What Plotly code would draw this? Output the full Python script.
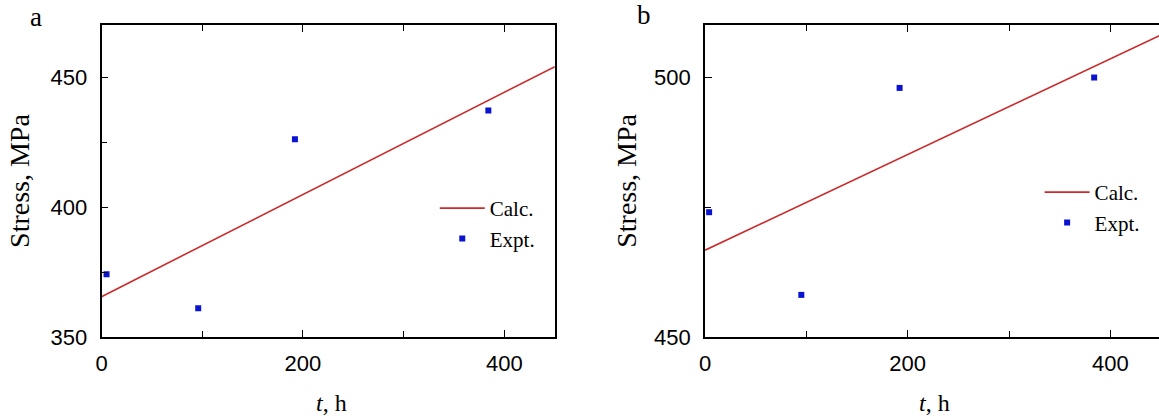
import plotly.graph_objects as go

# Panel a
t_expt_a = [5, 96, 192, 384]
s_expt_a = [374.1, 361.1, 426.1, 437.1]
t_calc_a = [0, 450]
s_calc_a = [365.5, 454.0]

# Panel b
t_expt_b = [4, 95, 192, 384]
s_expt_b = [474.0, 458.1, 497.9, 499.9]
t_calc_b = [0, 450]
s_calc_b = [466.7, 508.1]

x_ticks = [0, 200, 400]
y_ticks_a = [350, 400, 450]
y_ticks_b = [450, 500]

RED = "#cc2a2a"
BLUE = "#0a14d0"
SANS = "Liberation Sans"
SERIF = "Liberation Serif"

W, H = 1159, 419
DX = -4  # horizontal correction in px
fig = go.Figure()

fig.add_trace(go.Scatter(x=t_calc_a, y=s_calc_a, mode="lines", name="Calc.",
                         line=dict(color=RED, width=1.6), xaxis="x", yaxis="y", legend="legend"))
fig.add_trace(go.Scatter(x=t_expt_a, y=s_expt_a, mode="markers", name="Expt.",
                         marker=dict(symbol="square", size=6, color=BLUE), xaxis="x", yaxis="y",
                         legend="legend"))
fig.add_trace(go.Scatter(x=t_calc_b, y=s_calc_b, mode="lines", name="Calc.",
                         line=dict(color=RED, width=1.6), xaxis="x2", yaxis="y2", legend="legend2"))
fig.add_trace(go.Scatter(x=t_expt_b, y=s_expt_b, mode="markers", name="Expt.",
                         marker=dict(symbol="square", size=6, color=BLUE), xaxis="x2", yaxis="y2",
                         legend="legend2"))

def xax(domain, rng, anchor):
    return dict(domain=domain, range=rng, anchor=anchor, tickvals=x_ticks,
                showline=True, linecolor="black", linewidth=1.7, mirror="ticks",
                ticks="inside", ticklen=7, tickwidth=1.4, tickcolor="black",
                minor=dict(tickvals=[100, 300], ticks="inside", ticklen=6, tickwidth=1.4, tickcolor="black"),
                showgrid=False, zeroline=False,
                tickfont=dict(family=SANS, size=22, color="black"), ticklabelstandoff=6)

def yax(domain, rng, anchor, tv, minor_tv, mirror):
    return dict(domain=domain, range=rng, anchor=anchor, tickvals=tv,
                showline=True, linecolor="black", linewidth=1.7, mirror=mirror,
                ticks="inside", ticklen=7, tickwidth=1.4, tickcolor="black",
                minor=dict(tickvals=minor_tv, ticks="inside", ticklen=6, tickwidth=1.4, tickcolor="black"),
                showgrid=False, zeroline=False,
                tickfont=dict(family=SANS, size=22, color="black"), ticklabelstandoff=8)

def px(x):
    return (x + DX) / W

xa = [px(100), px(555.7)]
xb = [px(706.7), 1.0]

fig.update_layout(
    width=W, height=H,
    margin=dict(l=0, r=0, t=25, b=H - 337),
    paper_bgcolor="white", plot_bgcolor="white",
    xaxis=xax(xa, [0, 450], "y"),
    yaxis=yax([0, 1], [350, 470], "x", y_ticks_a, [375, 425], True),
    xaxis2=xax(xb, [0, 448], "y2"),
    yaxis2=yax([0, 1], [450, 510], "x2", y_ticks_b, [475], False),
    legend=dict(x=px(435), y=1 - (189 - 26) / 312, xref="paper", yref="paper",
                xanchor="left", yanchor="top", bgcolor="rgba(0,0,0,0)",
                font=dict(family=SERIF, size=21, color="black"), itemwidth=45, tracegroupgap=0),
    legend2=dict(x=px(1043), y=1 - (173 - 26) / 312, xref="paper", yref="paper",
                 xanchor="left", yanchor="top", bgcolor="rgba(0,0,0,0)",
                 font=dict(family=SERIF, size=21, color="black"), itemwidth=45, tracegroupgap=0),
    showlegend=True,
)

def ann(text, x, y, size, angle=0):
    fig.add_annotation(text=text, x=px(x), y=1 - (y - 26) / 312, xref="paper", yref="paper",
                       showarrow=False, textangle=angle, xanchor="center", yanchor="middle",
                       font=dict(family=SERIF, size=size, color="black"))

ann("Stress, MPa", 17, 182, 28, -90)
ann("Stress, MPa", 627, 182, 28, -90)
ann("<i>t</i>, h", 331, 404, 24)
ann("<i>t</i>, h", 937, 404, 24)
ann("a", 34, 18, 27)
ann("b", 645, 16, 27)

fig.write_html("out.html", config={"displayModeBar": False},
               post_script="document.body.style.margin='0';")
